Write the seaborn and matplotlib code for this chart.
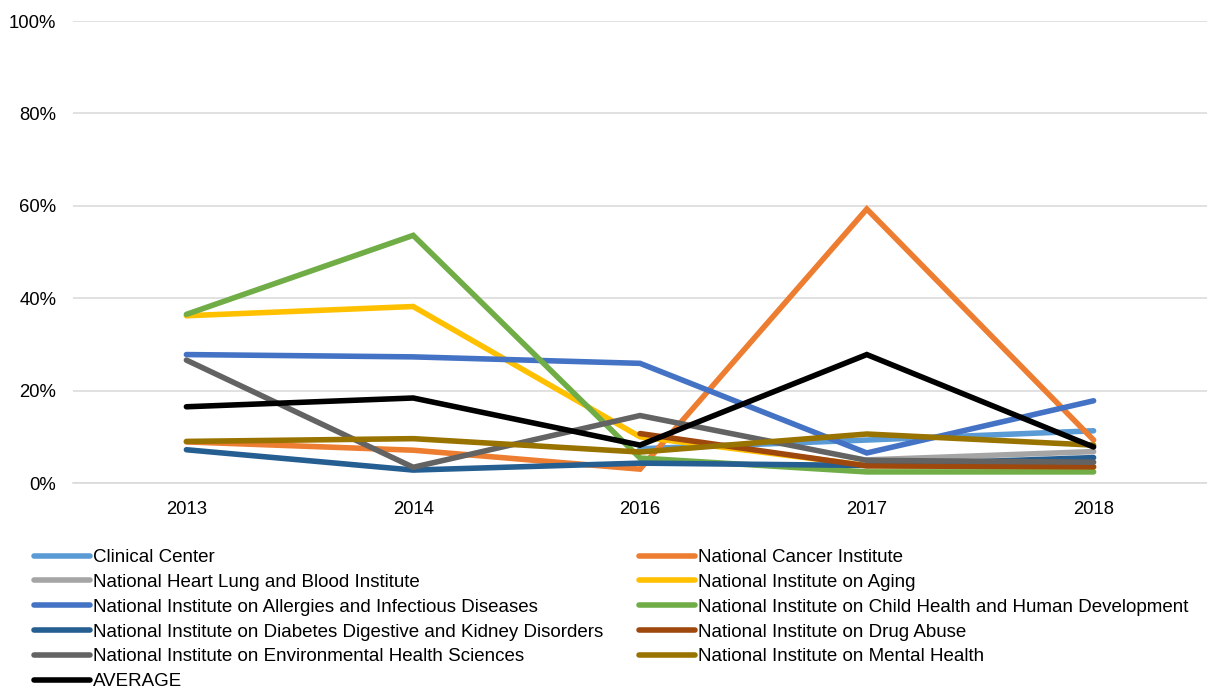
import numpy as np
import pandas as pd
import matplotlib
matplotlib.use("Agg")
import matplotlib.pyplot as plt
import seaborn as sns
from matplotlib.lines import Line2D

years = ["2013", "2014", "2016", "2017", "2018"]
clinical = [np.nan, np.nan, 7.4, 9.3, 11.3]
cancer = [8.9, 7.1, 3.0, 59.3, 9.3]
heart = [np.nan, np.nan, np.nan, 5.0, 6.8]
aging = [36.2, 38.2, 10.0, 3.8, 3.4]
allergies = [27.8, 27.3, 25.9, 6.5, 17.8]
child = [36.5, 53.6, 5.4, 2.4, 2.4]
diabetes = [7.2, 2.8, 4.3, 3.8, 5.5]
drug = [np.nan, np.nan, 10.7, 3.7, 3.5]
env = [26.6, 3.4, 14.6, 4.9, 4.5]
mental = [9.0, 9.6, 6.7, 10.6, 8.2]
average = [16.5, 18.4, 8.2, 27.8, 7.8]

names = [
    "Clinical Center",
    "National Cancer Institute",
    "National Heart Lung and Blood Institute",
    "National Institute on Aging",
    "National Institute on Allergies and Infectious Diseases",
    "National Institute on Child Health and Human Development",
    "National Institute on Diabetes Digestive and Kidney Disorders",
    "National Institute on Drug Abuse",
    "National Institute on Environmental Health Sciences",
    "National Institute on Mental Health",
    "AVERAGE",
]
series = [clinical, cancer, heart, aging, allergies, child, diabetes, drug, env, mental, average]
colors = ["#5B9BD5", "#ED7D31", "#A5A5A5", "#FFC000", "#4472C4", "#70AD47",
          "#255E91", "#9E480E", "#636363", "#997300", "#000000"]

rows = []
for n, s in zip(names, series):
    for y, v in zip(years, s):
        rows.append({"year": y, "value": v, "series": n})
df = pd.DataFrame(rows).dropna()
df["year"] = pd.Categorical(df["year"], categories=years, ordered=True)

sns.set_theme(style="white")
plt.rcParams["font.family"] = ["Liberation Sans", "DejaVu Sans"]
FS = 13.3

fig = plt.figure(figsize=(12.07, 6.91), dpi=100)
ax = fig.add_axes([73 / 1207, 1 - 483 / 691, (1207 - 73) / 1207, (483 - 21) / 691])

palette = dict(zip(names, colors))
sns.lineplot(data=df, x="year", y="value", hue="series", hue_order=names,
             palette=palette, linewidth=4.0, sort=False, legend=False, ax=ax,
             solid_capstyle="round", solid_joinstyle="miter")

ax.set_xlim(-0.5, 4.5)
ax.set_ylim(0, 100)
ax.set_yticks([0, 20, 40, 60, 80, 100])
ax.set_yticklabels([f"{t}%" for t in [0, 20, 40, 60, 80, 100]])
ax.set_xticks(range(len(years)))
ax.set_xticklabels(years)
ax.yaxis.grid(True, color="#D9D9D9", linewidth=1.1)
ax.set_axisbelow(True)
for sp in ["left", "right", "top"]:
    ax.spines[sp].set_visible(False)
ax.spines["bottom"].set_color("#D9D9D9")
ax.spines["bottom"].set_linewidth(1.1)
ax.tick_params(axis="both", length=0, labelsize=FS, colors="#000000")
ax.tick_params(axis="y", pad=12)
ax.tick_params(axis="x", pad=13)
ax.set_xlabel("")
ax.set_ylabel("")

handles = [Line2D([0], [0], color=c, linewidth=4.0, solid_capstyle="round") for c in colors]
left_idx = [0, 2, 4, 6, 8, 10]
right_idx = [1, 3, 5, 7, 9]
common = dict(frameon=False, fontsize=13.5, handlelength=3.0, handletextpad=0.15,
              labelspacing=0.41, borderpad=0, borderaxespad=0, loc="upper left",
              labelcolor="#000000")
fig.legend([handles[i] for i in left_idx], [names[i] for i in left_idx],
           bbox_to_anchor=(34 / 1207, 1 - 549 / 691), **common)
fig.legend([handles[i] for i in right_idx], [names[i] for i in right_idx],
           bbox_to_anchor=(639 / 1207, 1 - 549 / 691), **common)

fig.savefig("out.png", dpi=100)
